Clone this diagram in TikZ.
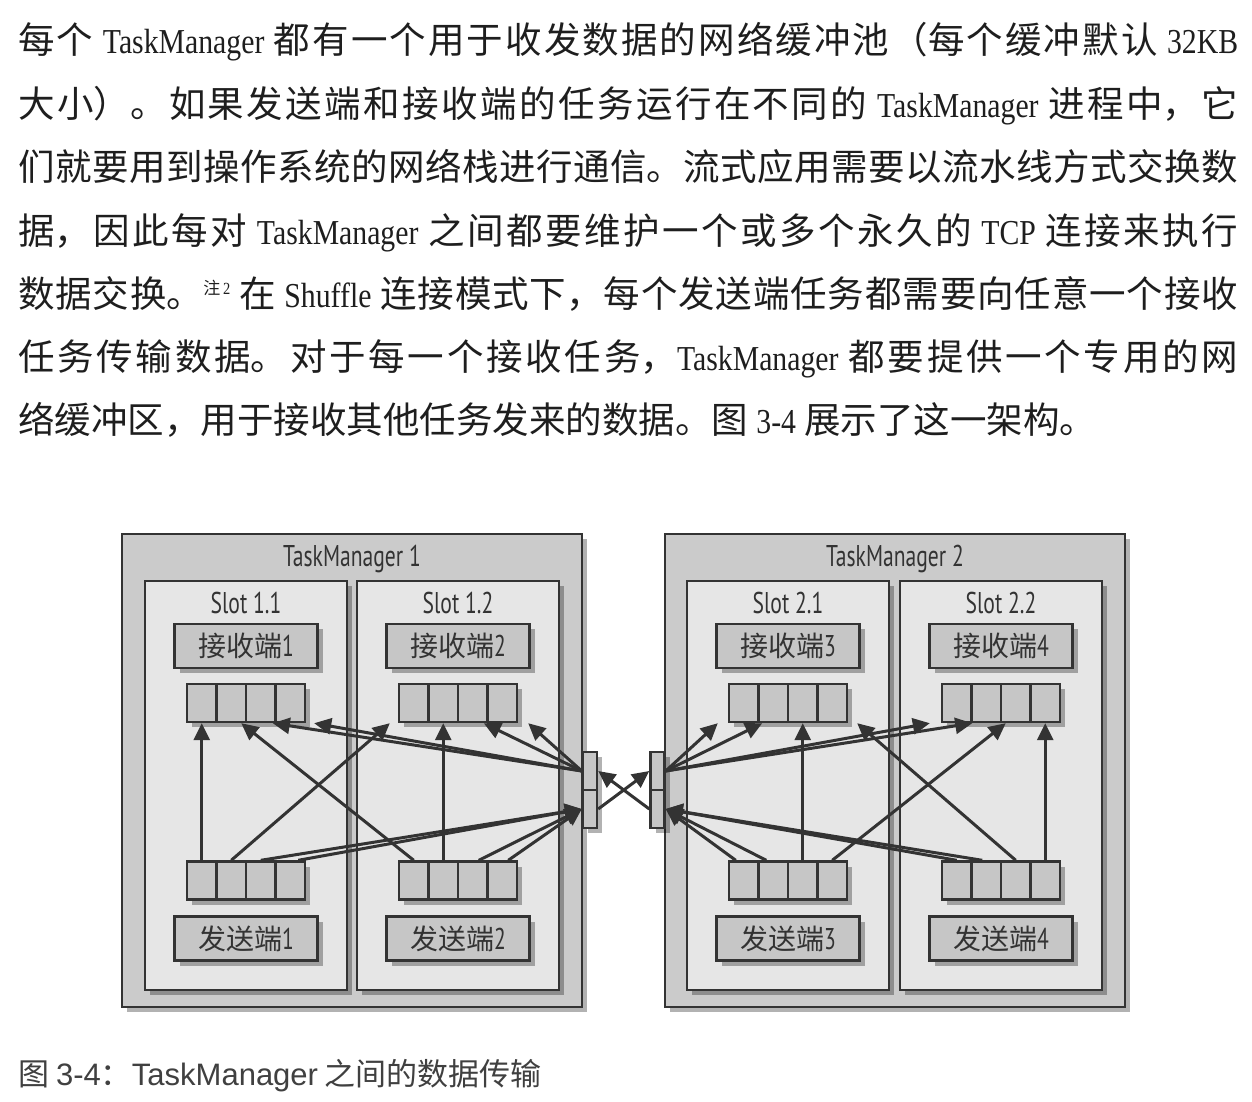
\documentclass[tikz,border=0pt]{standalone}
\usepackage{fontspec}
\setmainfont{Noto Sans CJK SC}
\newfontfamily\latserif[FakeStretch=0.85]{Liberation Serif}
\newfontfamily\latsans{Liberation Sans}
\newfontfamily\condsans[FakeStretch=0.72]{PT Sans}
\usetikzlibrary{positioning,arrows.meta,shadows}

\definecolor{ink}{HTML}{333333}
\definecolor{bodyink}{HTML}{1E1E1E}
\definecolor{capink}{HTML}{404040}
\definecolor{tmfill}{HTML}{CBCBCB}
\definecolor{slotfill}{HTML}{E6E6E6}
\definecolor{boxfill}{HTML}{C6C6C6}

\newcommand\srf[1]{{\latserif\fontsize{35}{35}\selectfont #1}}
\newcommand\notemark{\raisebox{13pt}{\fontsize{17}{17}\selectfont 注\,{\latserif 2}}}
\newcommand\bodyline[1]{\parbox[t]{1220pt}{\XeTeXlinebreaklocale "zh"%
  \XeTeXlinebreakskip=0pt plus 6pt minus 1pt\tolerance=9000\parfillskip=0pt\relax #1}}

\begin{document}
\begin{tikzpicture}[x=1pt, y=-1pt,
  shade box/.style={drop shadow={shadow xshift=5pt, shadow yshift=-5pt, opacity=0.3, fill=black}},
  tmbox/.style={draw=ink, line width=2.4pt, fill=tmfill, inner sep=0pt,
    minimum width=460pt, minimum height=473pt, shade box},
  slotbox/.style={draw=ink, line width=2.4pt, fill=slotfill, inner sep=0pt,
    minimum width=202pt, minimum height=409pt, shade box},
  endbox/.style={draw=ink, line width=2.4pt, fill=boxfill, inner sep=0pt,
    minimum width=143pt, minimum height=44pt, shade box, text=ink,
    font=\fontsize{28}{30}\selectfont},
  cellbox/.style={draw=ink, line width=2.4pt, fill=boxfill, inner sep=0pt,
    minimum width=29.5pt, minimum height=38pt, shade box},
  netbox/.style={draw=ink, line width=2.4pt, fill=boxfill, inner sep=0pt,
    minimum width=14pt, minimum height=38pt, shade box},
  title/.style={anchor=base, inner sep=0pt, text=ink, font=\condsans\fontsize{30}{32}\selectfont},
  bodytext/.style={anchor=base west, inner sep=0pt, text=bodyink, font=\fontsize{36.5}{40}\selectfont},
  flow/.style={draw=ink, line width=3pt, -{Triangle[length=17pt, width=16pt]}}
]
\fill[white] (0,0) rectangle (1252,1102);
\useasboundingbox (0,0) rectangle (1252,1102);

% text above the figure
\node[bodytext] (line1) at (18,54) {\bodyline{每个 \srf{TaskManager} 都有一个用于收发数据的网络缓冲池（每个缓冲默认 \srf{32KB}}};
\node[bodytext] (line2) at (18,117.3) {\bodyline{大小）。如果发送端和接收端的任务运行在不同的 \srf{TaskManager} 进程中，它}};
\node[bodytext] (line3) at (18,180.6) {\bodyline{们就要用到操作系统的网络栈进行通信。流式应用需要以流水线方式交换数}};
\node[bodytext] (line4) at (18,244) {\bodyline{据，因此每对 \srf{TaskManager} 之间都要维护一个或多个永久的 \srf{TCP} 连接来执行}};
\node[bodytext] (line5) at (18,307.2) {\bodyline{数据交换。\notemark{} 在 \srf{Shuffle} 连接模式下，每个发送端任务都需要向任意一个接收}};
\node[bodytext] (line6) at (18,370.5) {\bodyline{任务传输数据。对于每一个接收任务，\srf{TaskManager} 都要提供一个专用的网}};
\node[bodytext] (line7) at (18,433.8) {络缓冲区，用于接收其他任务发来的数据。图 \srf{3-4} 展示了这一架构。};

% task managers and slots
\node[tmbox] (tm1) at (352,770.5) {};
\node[tmbox] (tm2) at (895,770.5) {};
\node[title] (tm1lab) at (352,566) {TaskManager 1};
\node[title] (tm2lab) at (895,566) {TaskManager 2};

\foreach \s/\cx/\name in {1/246/1.1, 2/458/1.2, 3/788/2.1, 4/1001/2.2} {
  \node[slotbox] (slot\s) at (\cx,785.5) {};
  \node[title] (slotlab\s) at (\cx,613) {Slot \name};
  \node[endbox] (recv\s) at (\cx,646) {接收端{\condsans\fontsize{30}{30}\selectfont\s}};
  \node[endbox] (send\s) at (\cx,938.5) {发送端{\condsans\fontsize{30}{30}\selectfont\s}};
  \foreach \k in {1,...,4} {
    \node[cellbox] (r\s-\k) at ({\cx-44.25+29.5*(\k-1)},703) {};
    \node[cellbox] (s\s-\k) at ({\cx-44.25+29.5*(\k-1)},880.5) {};
  }
}

% network buffers between the task managers
\node[netbox] (n1a) at (590,771) {};
\node[netbox] (n1b) at (590,809) {};
\node[netbox] (n2a) at (657.5,771) {};
\node[netbox] (n2b) at (657.5,809) {};

% TaskManager 1
\draw[flow] (s1-1.north) -- (r1-1.south);
\draw[flow] (s2-1.north) -- ([xshift=10pt]r1-2.south);
\draw[flow] (n1a.west) -- ([xshift=12pt]r1-3.south);
\draw[flow] (n1a.west) -- ([xshift=8pt]r1-4.south east);
\draw[flow] (s1-2.north) -- ([xshift=-8pt]r2-1.south west);
\draw[flow] (s2-2.north) -- (r2-2.south);
\draw[flow] (n1a.west) -- ([xshift=11pt]r2-3.south);
\draw[flow] (n1a.west) -- ([xshift=10pt]r2-4.south east);
\draw[flow] (s1-3.north) -- (n1b.west);
\draw[flow] ([xshift=8pt]s1-4.north) -- (n1b.west);
\draw[flow] ([xshift=6pt]s2-3.north) -- (n1b.west);
\draw[flow] ([xshift=6pt]s2-4.north) -- (n1b.west);

% between the task managers
\draw[flow] (n1b.east) -- (n2a.west);
\draw[flow] (n2b.west) -- (n1a.east);

% TaskManager 2
\draw[flow] (n2a.east) -- ([xshift=-10pt]r3-1.south west);
\draw[flow] (n2a.east) -- ([xshift=-11pt]r3-2.south);
\draw[flow] (s3-3.north) -- (r3-3.south);
\draw[flow] (s4-3.north) -- ([xshift=9pt]r3-4.south east);
\draw[flow] (n2a.east) -- ([xshift=-11pt]r4-1.south west);
\draw[flow] (n2a.east) -- ([xshift=-14pt]r4-2.south);
\draw[flow] (s3-4.north) -- ([xshift=-10pt]r4-3.south);
\draw[flow] (s4-4.north) -- (r4-4.south);
\draw[flow] ([xshift=-8pt]s3-1.north) -- (n2b.east);
\draw[flow] ([xshift=-7pt]s3-2.north) -- (n2b.east);
\draw[flow] (s4-1.north) -- (n2b.east);
\draw[flow] ([xshift=-4pt]s4-2.north) -- (n2b.east);

% caption
\node[anchor=base west, inner sep=0pt, text=capink, font=\fontsize{31}{33}\selectfont] (caption) at (18,1085)
  {图 {\latsans 3-4}：{\latsans TaskManager} 之间的数据传输};
\end{tikzpicture}
\end{document}
